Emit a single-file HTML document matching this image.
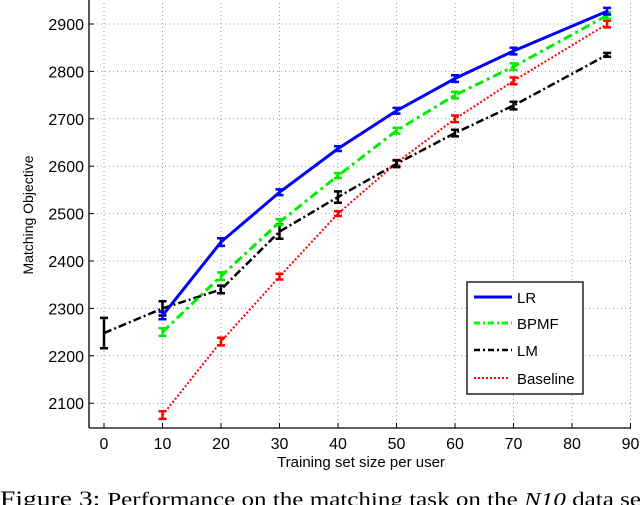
<!DOCTYPE html>
<html><head><meta charset="utf-8"><style>
body{margin:0;background:#fff;width:640px;height:505px;overflow:hidden}
svg{display:block}
text{font-family:"Liberation Sans",Arial,sans-serif;fill:#000}
</style></head><body>
<svg width="640" height="505" xmlns="http://www.w3.org/2000/svg">
<g id="grid"></g>
<g id="axes"></g>
<g id="series"></g>
<text x="33" y="215" font-size="14" transform="rotate(-90 33 215)" text-anchor="middle">Matching Objective</text>
<text x="361" y="467" font-size="15" text-anchor="middle">Training set size per user</text>
<text x="0" y="506" font-size="22" textLength="648" lengthAdjust="spacingAndGlyphs" style="font-family:'Liberation Serif',serif">Figure 3: <tspan font-size="20">Performance on the matching task on the <tspan font-style="italic">N10</tspan> data set</tspan></text>
<g>
<rect x="467" y="282" width="116" height="112" fill="#fff" stroke="#000" stroke-width="1.3"/>
<line x1="474" y1="297" x2="512" y2="297" stroke="#0000ff" stroke-width="3"/>
<text x="517" y="303" font-size="15">LR</text>
<line x1="474" y1="323" x2="512" y2="323" stroke="#00ff00" stroke-width="3" stroke-dasharray="6,3,2,3"/>
<text x="517" y="329" font-size="15">BPMF</text>
<line x1="474" y1="350" x2="512" y2="350" stroke="#000" stroke-width="2.5" stroke-dasharray="6,3,2,3"/>
<text x="517" y="356" font-size="15">LM</text>
<line x1="474" y1="378" x2="510" y2="378" stroke="#ff0000" stroke-width="2" stroke-dasharray="2,2"/>
<text x="517" y="384" font-size="15">Baseline</text>
</g>
</svg>
<script>
const xTicks=[0,10,20,30,40,50,60,70,80,90];
const yTicks=[2100,2200,2300,2400,2500,2600,2700,2800,2900];
const lrX=[10,20,30,40,50,60,70,86];
const lrY=[2285,2440,2545,2637,2717,2785,2843,2927];
const bpmfX=[10,20,30,40,50,60,70,86];
const bpmfY=[2250,2368,2482,2580,2675,2750,2810,2918];
const lmX=[0,10,20,30,40,50,60,70,86];
const lmY=[2248,2300,2340,2462,2535,2605,2670,2728,2835];
const lmErr=[32,15,8,15,12,7,7,8,4];
const baseX=[10,20,30,40,50,60,70,86];
const baseY=[2075,2230,2367,2500,2607,2700,2780,2900];
const errSmall=[8,8,6,5,6,7,7,7,6];
const NS="http://www.w3.org/2000/svg";
const L=89,R=631,T=-5,B=428;
const sx=v=>104+v*5.85;
const sy=v=>24+(2900-v)*0.474;
function mk(tag,at,parent){const e=document.createElementNS(NS,tag);for(const k in at)e.setAttribute(k,at[k]);parent.appendChild(e);return e;}
const grid=document.getElementById('grid'),axes=document.getElementById('axes'),ser=document.getElementById('series');
xTicks.forEach(t=>{
 const g=mk('line',{x1:sx(t),x2:sx(t),y1:T,y2:B,stroke:'#999','stroke-dasharray':'1,3','stroke-width':1},grid);
 
 
 mk('line',{x1:sx(t),x2:sx(t),y1:B,y2:B-5,stroke:'#000'},axes);
 const tx=mk('text',{x:sx(t),y:B+21,'font-size':16,'text-anchor':'middle'},axes);tx.textContent=t;
 
 
});
yTicks.forEach(t=>{
 const g=mk('line',{x1:L,x2:R,y1:sy(t),y2:sy(t),stroke:'#999','stroke-dasharray':'1,3','stroke-width':1},grid);
 
 
 mk('line',{x1:L,x2:L+5,y1:sy(t),y2:sy(t),stroke:'#000'},axes);
 const tx=mk('text',{x:L-5,y:sy(t)+6,'font-size':16,'text-anchor':'end'},axes);tx.textContent=t;
 
 
});
mk('line',{x1:L,x2:L,y1:T,y2:B,stroke:'#000','stroke-width':1.3},axes);
mk('line',{x1:L,x2:R,y1:B,y2:B,stroke:'#000','stroke-width':1.3},axes);
function series(name,xs,ys,errs,color,w,dash){
 const p=mk('polyline',{points:xs.map((x,i)=>sx(x)+','+sy(ys[i])).join(' '),fill:'none',stroke:color,'stroke-width':w,'stroke-dasharray':dash},ser);
 
 
 xs.forEach((x,i)=>{
  const e=errs[i],cx=sx(x),y1=sy(ys[i]+e),y2=sy(ys[i]-e);
  const g=mk('path',{d:`M${cx-4},${y1}H${cx+4}M${cx},${y1}V${y2}M${cx-4},${y2}H${cx+4}`,stroke:color,'stroke-width':2.5,fill:'none'},ser);
  
  
 });
}
series('baseline',baseX,baseY,errSmall,'#ff0000',2,'2,2');
series('lm',lmX,lmY,lmErr,'#000',2.5,'8,3,2,3');
series('bpmf',bpmfX,bpmfY,errSmall,'#00ee00',3,'9,4,3,4');
series('lr',lrX,lrY,errSmall,'#0000ff',3,'none');
</script>
</body></html>
